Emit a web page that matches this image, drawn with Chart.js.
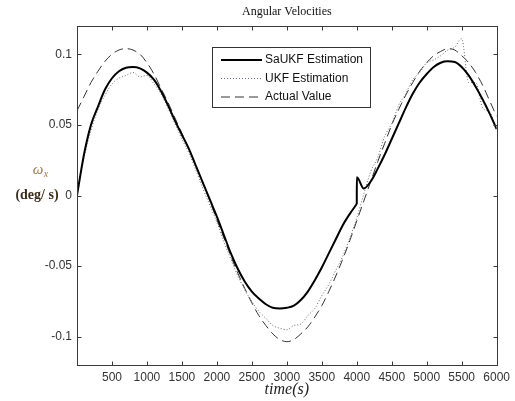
<!DOCTYPE html>
<html>
<head>
<meta charset="utf-8">
<script src="https://cdn.jsdelivr.net/npm/chart.js@4.4.0/dist/chart.umd.min.js"></script>
<style>
  html, body { margin: 0; padding: 0; background: #fff; }
</style>
</head>
<body>
<canvas id="velChart" width="515" height="401"></canvas>
<script>
// time stamps (s)
var time = [0,100,200,300,400,500,600,700,800,900,
  1000,1100,1200,1300,1400,1500,1600,1700,1800,1900,
  2000,2100,2200,2300,2400,2500,2600,2700,2800,2900,
  3000,3100,3200,3300,3400,3500,3600,3700,3800,3900,
  4000,4100,4200,4300,4400,4500,4600,4700,4800,4900,
  5000,5100,5200,5300,5400,5500,5600,5700,5800,5900,6000];

// SaUKF estimation
var sakf = [0.000,0.029,0.050,0.063,0.075,0.083,0.088,0.0905,0.091,0.090,
  0.087,0.082,0.074,0.064,0.053,0.043,0.033,0.021,0.009,-0.003,
  -0.015,-0.028,-0.041,-0.052,-0.061,-0.068,-0.073,-0.077,-0.0795,-0.080,
  -0.0795,-0.078,-0.074,-0.068,-0.060,-0.051,-0.041,-0.031,-0.021,-0.013,
  -0.006,0.005,0.010,0.019,0.029,0.040,0.051,0.062,0.072,0.080,
  0.086,0.091,0.094,0.095,0.0945,0.091,0.085,0.077,0.068,0.058,0.047];
// the SaUKF estimate steps up right after t = 4000 s
var jumpAt = 4000;
var sakfAfterJump = 0.013;

// UKF estimation
var ukf = [0.003,0.027,0.046,0.061,0.071,0.079,0.083,0.085,0.087,0.084,
  0.085,0.079,0.072,0.062,0.051,0.040,0.030,0.018,0.005,-0.007,
  -0.019,-0.033,-0.045,-0.057,-0.067,-0.075,-0.082,-0.087,-0.092,-0.094,
  -0.095,-0.092,-0.091,-0.085,-0.080,-0.071,-0.063,-0.053,-0.043,-0.030,
  -0.016,0.001,0.017,0.027,0.042,0.051,0.064,0.072,0.082,0.087,
  0.094,0.096,0.099,0.103,0.105,0.111,0.080,0.080,0.062,0.059,0.047];

// actual value
var actual = [0.060,0.070,0.080,0.088,0.095,0.100,0.103,0.104,0.103,0.100,
  0.094,0.086,0.076,0.066,0.055,0.044,0.033,0.021,0.009,-0.004,
  -0.017,-0.030,-0.043,-0.055,-0.066,-0.076,-0.085,-0.092,-0.098,-0.102,
  -0.1035,-0.102,-0.098,-0.093,-0.086,-0.078,-0.068,-0.057,-0.045,-0.032,
  -0.018,-0.004,0.010,0.024,0.037,0.050,0.061,0.071,0.080,0.088,
  0.094,0.099,0.102,0.104,0.103,0.099,0.094,0.087,0.078,0.067,0.056];

var xTicks = [500,1000,1500,2000,2500,3000,3500,4000,4500,5000,5500,6000];
var yTicks = [-0.1,-0.05,0,0.05,0.1];

function toPoints(vals) {
  var pts = [];
  for (var i = 0; i < time.length; i++) pts.push({x: time[i], y: vals[i]});
  return pts;
}

// SaUKF split in two pieces so the step at jumpAt stays sharp
var jumpIdx = time.indexOf(jumpAt);
var sakfBefore = [], sakfAfter = [];
for (var i = 0; i <= jumpIdx; i++) sakfBefore.push({x: time[i], y: sakf[i]});
sakfAfter.push({x: jumpAt, y: sakf[jumpIdx]});
sakfAfter.push({x: jumpAt + 1, y: sakfAfterJump});
for (var j = jumpIdx + 1; j < time.length; j++) sakfAfter.push({x: time[j], y: sakf[j]});

var sans = '"Liberation Sans", Arial, sans-serif';
var serif = '"Liberation Serif", "Times New Roman", serif';

// box around the plot with inward ticks on all four sides
var framePlugin = {
  id: 'frame',
  afterDatasetsDraw: function(chart) {
    var ctx = chart.ctx, a = chart.chartArea;
    var xs = chart.scales.x, ys = chart.scales.y;
    var l = Math.round(a.left) + 0.5, r = Math.round(a.right) + 0.5;
    var t = Math.round(a.top) + 0.5, b = Math.round(a.bottom) + 0.5;
    ctx.save();
    ctx.strokeStyle = '#3a3a3a';
    ctx.lineWidth = 1;
    ctx.strokeRect(l, t, r - l, b - t);
    ctx.beginPath();
    xTicks.forEach(function(v) {
      var px = Math.round(xs.getPixelForValue(v)) + 0.5;
      ctx.moveTo(px, b); ctx.lineTo(px, b - 4);
      ctx.moveTo(px, t); ctx.lineTo(px, t + 4);
    });
    yTicks.forEach(function(v) {
      var py = Math.round(ys.getPixelForValue(v)) + 0.5;
      ctx.moveTo(l, py); ctx.lineTo(l + 4, py);
      ctx.moveTo(r, py); ctx.lineTo(r - 4, py);
    });
    ctx.stroke();
    ctx.restore();
  }
};

// boxed legend inside the plot
var boxLegend = {
  id: 'boxLegend',
  afterDraw: function(chart) {
    var ctx = chart.ctx;
    var bx = 212.5, by = 47.5, bw = 158, bh = 60;
    ctx.save();
    ctx.fillStyle = '#fff';
    ctx.fillRect(bx, by, bw, bh);
    ctx.strokeStyle = '#333';
    ctx.lineWidth = 1;
    ctx.strokeRect(bx, by, bw, bh);
    ctx.font = '12px ' + sans;
    ctx.textBaseline = 'middle';
    var row = 0;
    chart.data.datasets.forEach(function(ds) {
      if (!ds.label) return;
      var y = 60 + row * 18.5;
      row++;
      ctx.beginPath();
      ctx.strokeStyle = ds.borderColor;
      ctx.lineWidth = ds.borderWidth;
      ctx.setLineDash(ds.borderDash || []);
      ctx.moveTo(221, y); ctx.lineTo(262, y);
      ctx.stroke();
      ctx.setLineDash([]);
      ctx.fillStyle = '#111';
      ctx.fillText(ds.label, 265, y);
    });
    ctx.restore();
  }
};

// title centred over the plot, and the two-line y-axis label
var labels = {
  id: 'labels',
  afterDraw: function(chart) {
    var ctx = chart.ctx, a = chart.chartArea;
    ctx.save();
    ctx.textAlign = 'center';
    ctx.textBaseline = 'middle';
    ctx.fillStyle = '#111';
    ctx.font = '12px ' + serif;
    ctx.fillText('Angular Velocities', (a.left + a.right) / 2, 12);
    ctx.textBaseline = 'alphabetic';
    ctx.fillStyle = '#9a7b4c';
    ctx.font = 'italic 15px ' + serif;
    ctx.fillText('\u03c9', 38, 174);
    ctx.font = 'italic 10px ' + serif;
    ctx.fillText('x', 46, 177);
    ctx.fillStyle = '#3b2c18';
    ctx.font = 'bold 14px ' + serif;
    ctx.fillText('(deg/ s)', 37, 199);
    ctx.restore();
  }
};

var chart = new Chart(document.getElementById('velChart'), {
  type: 'line',
  data: {
    datasets: [
      {
        label: 'SaUKF Estimation',
        data: sakfBefore,
        borderColor: '#000',
        borderWidth: 2,
        order: 0
      },
      {
        label: 'UKF Estimation',
        data: toPoints(ukf),
        borderColor: '#6a6a78',
        borderWidth: 1,
        borderDash: [1, 2],
        order: 1
      },
      {
        label: 'Actual Value',
        data: toPoints(actual),
        borderColor: '#333',
        borderWidth: 1,
        borderDash: [9, 5],
        order: 2
      },
      {
        label: '',
        data: sakfAfter,
        borderColor: '#000',
        borderWidth: 2,
        order: 0
      }
    ]
  },
  options: {
    responsive: false,
    animation: false,
    elements: {
      point: { radius: 0 },
      line: { fill: false, cubicInterpolationMode: 'monotone' }
    },
    layout: { padding: { top: 26, right: 10, left: 0, bottom: 0 } },
    plugins: {
      legend: { display: false },
      tooltip: { enabled: false },
      title: { display: false }
    },
    scales: {
      x: {
        type: 'linear',
        min: 0,
        max: 6000,
        afterBuildTicks: function(s) { s.ticks = xTicks.map(function(v) { return {value: v}; }); },
        afterFit: function(s) { s.height = 36; },
        grid: { display: false, drawTicks: false },
        border: { display: false },
        ticks: {
          color: '#333',
          font: { family: sans, size: 12 },
          padding: 5,
          maxRotation: 0,
          autoSkip: false,
          callback: function(v) { return String(v); }
        },
        title: {
          display: true,
          text: 'time(s)',
          color: '#222',
          font: { family: serif, size: 16, style: 'italic' },
          padding: { top: 0, bottom: 2 }
        }
      },
      y: {
        type: 'linear',
        min: -0.12,
        max: 0.12,
        afterBuildTicks: function(s) { s.ticks = yTicks.map(function(v) { return {value: v}; }); },
        afterFit: function(s) { s.width = 77; },
        grid: { display: false, drawTicks: false },
        border: { display: false },
        ticks: {
          color: '#333',
          font: { family: sans, size: 12 },
          padding: 5,
          callback: function(v) { return String(v); }
        }
      }
    }
  },
  plugins: [framePlugin, boxLegend, labels]
});
</script>
</body>
</html>
